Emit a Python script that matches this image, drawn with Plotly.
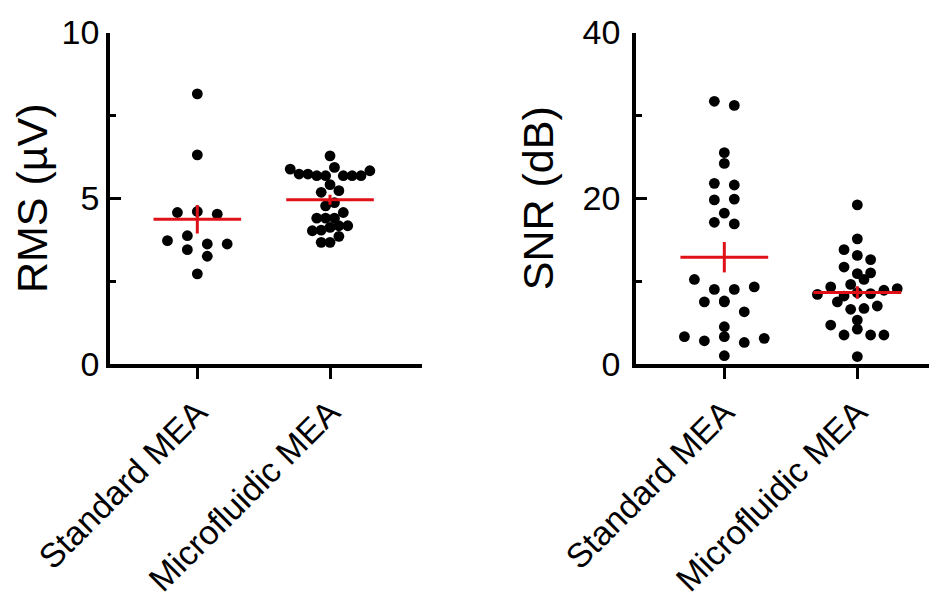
import numpy as np
import plotly.graph_objects as go

# ---------------- data ----------------
categories = ["Standard MEA", "Microfluidic MEA"]

# values listed row by row (top to bottom), left to right inside a row
rms_standard = [8.15, 6.31, 4.57, 4.60, 4.52, 3.72, 3.87, 3.62, 3.62,
                3.45, 3.25, 2.72]
rms_microfluidic = [6.28,
                    5.88, 5.73, 5.73, 5.68, 5.68, 5.93, 5.68, 5.68, 5.68, 5.83,
                    5.18, 5.41, 5.23,
                    4.77, 4.87,
                    4.40, 4.40, 4.40, 4.57,
                    4.02, 4.04, 4.12, 4.17, 4.17,
                    3.67, 3.67, 3.85]
snr_standard = [31.7, 31.2, 25.5, 24.2, 21.8, 21.6, 19.8, 19.9, 18.2,
                17.1, 16.9, 10.2, 9.0, 9.0, 9.3, 7.5, 7.5, 7.6, 6.3, 4.5,
                3.3, 2.8, 3.3, 2.6, 3.1, 1.0]
snr_microfluidic = [19.2, 15.1, 13.8, 13.1, 12.6, 11.7, 10.9, 11.0, 9.6, 10.2,
                    8.4, 9.3, 8.2, 8.6, 8.5, 8.9, 9.1,
                    7.5, 6.6, 6.7, 7.0,
                    4.7, 5.3,
                    3.5, 4.2, 3.5, 3.5,
                    0.9]

rms_ticks = [0, 5, 10]
rms_minor = [2.5, 7.5]
snr_ticks = [0, 20, 40]
snr_minor = [10, 30]

# ---------------- layout constants ----------------
W, H = 937, 602
PAGE_OFF = 8  # default page margin around the figure div
FONT = "Arial, 'Liberation Sans', sans-serif"
RED = "#e01018"
DOT = 10.8  # marker diameter in px

left_dom_px = (110 - PAGE_OFF, 422 - PAGE_OFF)
right_dom_px = (636 - PAGE_OFF, 937 - PAGE_OFF)
y_dom_px = (364 - PAGE_OFF, 32.5 - PAGE_OFF)  # bottom, top

x1_range = [-0.658, 1.693]
x2_range = [-0.664, 1.599]
y1_range = [0, 10]
y2_range = [0, 40]

ydom = [(H - y_dom_px[0]) / H, (H - y_dom_px[1]) / H]


def px_per_unit(dom_px, rng):
    return abs(dom_px[1] - dom_px[0]) / (rng[1] - rng[0])


def swarm(values, center, row_h, max_half=0.3, max_step=0.15):
    """Row-based scatter layout: values closer than one dot height share a row,
    points in a row are spread symmetrically around the category centre."""
    vals = np.asarray(values, dtype=float)
    order = np.argsort(vals, kind="stable")
    rows, cur, start = [], [], None
    for i in order:
        if cur and vals[i] - start < row_h:
            cur.append(i)
        else:
            if cur:
                rows.append(cur)
            cur, start = [i], vals[i]
    if cur:
        rows.append(cur)
    nmax = max(len(r) for r in rows)
    step = max_step if nmax < 2 else min(max_step, 2 * max_half / (nmax - 1))
    xs = np.zeros(len(vals))
    for r in rows:
        r = sorted(r)  # keep data order inside a row
        n = len(r)
        for k, i in enumerate(r):
            xs[i] = center + (k - (n - 1) / 2) * step
    return xs, vals


fig = go.Figure()


def add_group(values, center, xa, ya, row_h):
    xs, vals = swarm(values, center, row_h)
    fig.add_trace(go.Scatter(x=xs, y=vals, mode="markers", xaxis=xa, yaxis=ya,
                             marker=dict(color="black", size=DOT, line=dict(width=0)),
                             hoverinfo="skip"))
    m = float(np.mean(vals))
    sem = float(np.std(vals, ddof=1) / np.sqrt(len(vals)))
    fig.add_trace(go.Scatter(x=[center - 0.33, center + 0.33], y=[m, m], mode="lines",
                             xaxis=xa, yaxis=ya, line=dict(color=RED, width=3),
                             hoverinfo="skip"))
    fig.add_trace(go.Scatter(x=[center], y=[m], mode="markers", xaxis=xa, yaxis=ya,
                             marker=dict(size=1, opacity=0),
                             error_y=dict(type="data", array=[sem], visible=True,
                                          width=0, thickness=3, color=RED),
                             hoverinfo="skip"))


row_h1 = 0.95 * DOT / px_per_unit((y_dom_px[0], y_dom_px[1]), y1_range)
row_h2 = 0.95 * DOT / px_per_unit((y_dom_px[0], y_dom_px[1]), y2_range)

add_group(rms_standard, 0, "x", "y", row_h1)
add_group(rms_microfluidic, 1, "x", "y", row_h1)
add_group(snr_standard, 0, "x2", "y2", row_h2)
add_group(snr_microfluidic, 1, "x2", "y2", row_h2)

axis_common = dict(showgrid=False, zeroline=False, showline=True, linecolor="black",
                   linewidth=3.5, tickcolor="black", tickwidth=3, automargin=False,
                   tickfont=dict(family=FONT, size=34, color="black"))

xcommon = dict(axis_common, tickvals=[0, 1], ticktext=categories, tickangle=-45,
               ticks="outside", ticklen=11,
               tickfont=dict(family=FONT, size=34, color="black"))

title_font = dict(family=FONT, size=43, color="black")

fig.update_layout(
    width=W, height=H, margin=dict(l=0, r=0, t=0, b=0, autoexpand=False),
    paper_bgcolor="white", plot_bgcolor="white", showlegend=False,
    xaxis=dict(xcommon, domain=[left_dom_px[0] / W, left_dom_px[1] / W],
               range=x1_range, anchor="y"),
    xaxis2=dict(xcommon, domain=[right_dom_px[0] / W, right_dom_px[1] / W],
                range=x2_range, anchor="y2"),
    yaxis=dict(axis_common, domain=ydom, range=y1_range, anchor="x",
               tickvals=rms_ticks, ticks="inside", ticklen=11,
               minor=dict(tickvals=rms_minor, ticks="inside", ticklen=6,
                          tickwidth=3, tickcolor="black"),
               title=dict(text="RMS (µV)", font=title_font, standoff=7)),
    yaxis2=dict(axis_common, domain=ydom, range=y2_range, anchor="x2",
                tickvals=snr_ticks, ticks="inside", ticklen=11, ticklabelstandoff=5,
                minor=dict(tickvals=snr_minor, ticks="inside", ticklen=6,
                           tickwidth=3, tickcolor="black"),
                title=dict(text="SNR (dB)", font=title_font, standoff=17)),
)

fig.write_html("out.html")
